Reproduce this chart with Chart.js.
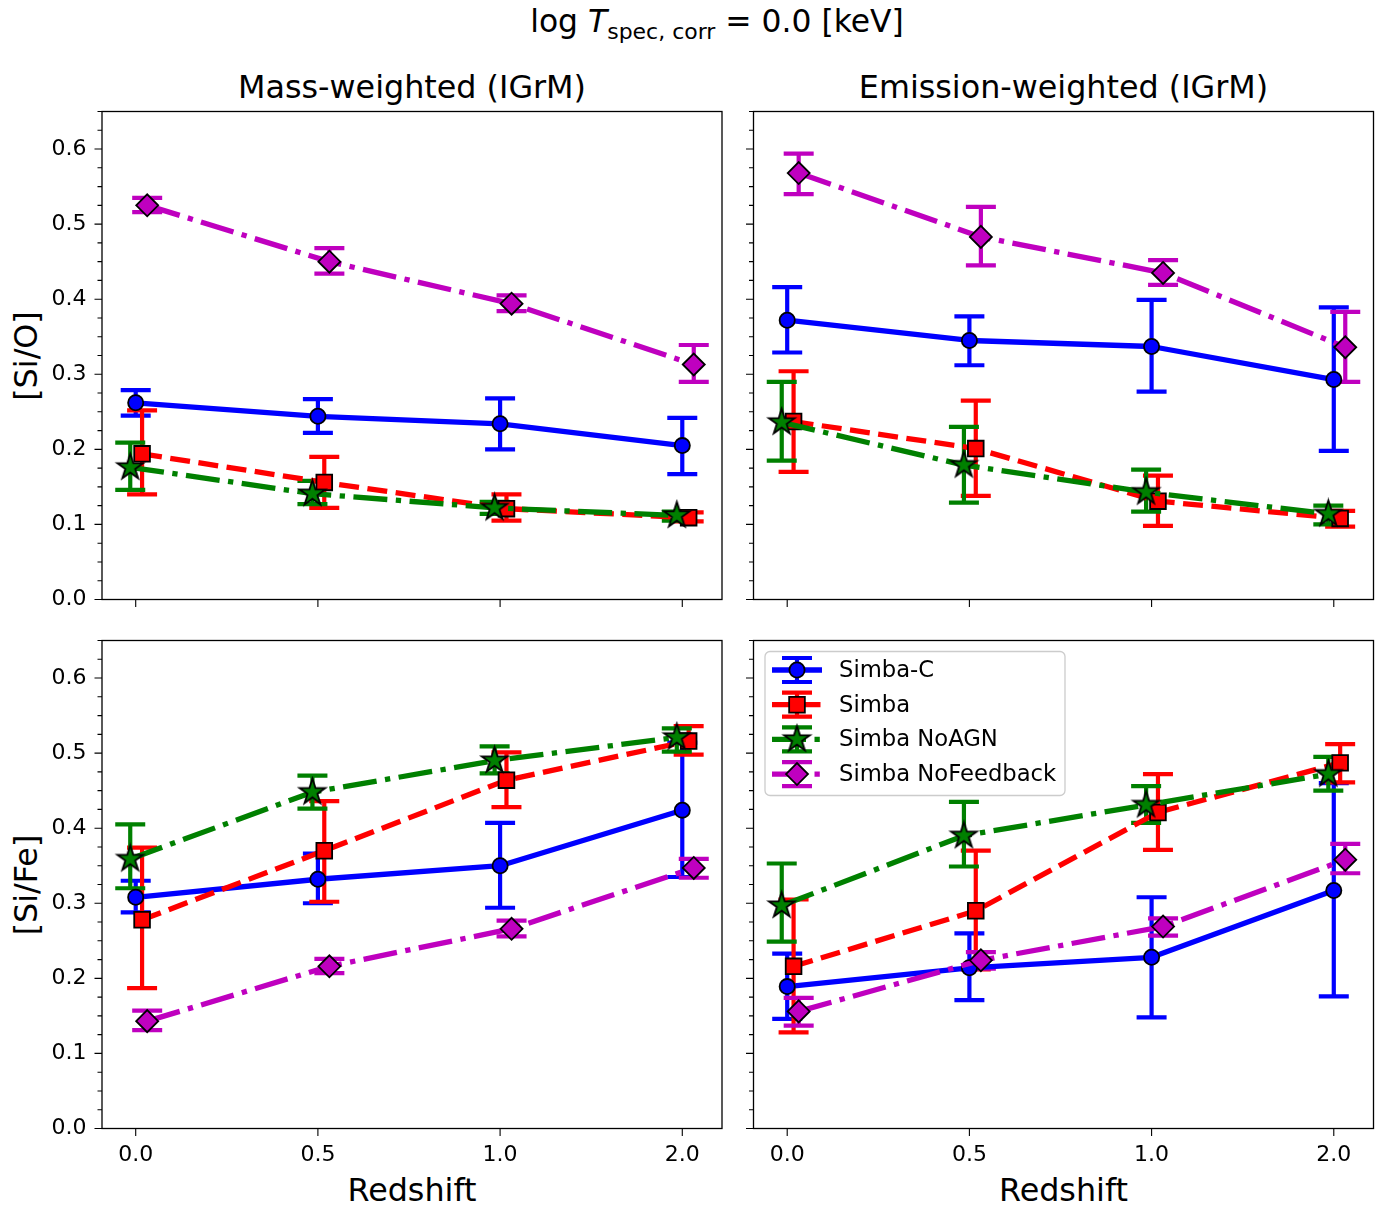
<!DOCTYPE html>
<html>
<head>
<meta charset="utf-8">
<script src="https://cdn.jsdelivr.net/npm/chart.js"></script>
<style>
  body { margin: 0; background: #fff; width: 1390px; height: 1207px; position: relative; overflow: hidden;
         font-family: "DejaVu Sans", sans-serif; }
  canvas { position: absolute; }
  .t { position: absolute; white-space: nowrap; color: #000; font-size: 31.8px; line-height: 1;
       transform: translate(-50%, -50%); }
  .rot { transform: translate(-50%, -50%) rotate(-90deg); }
  .sub { font-size: 70%; position: relative; top: 0.32em; }
</style>
</head>
<body>
<div class="t" style="left:717px;top:22px;font-size:31.4px">log <i>T</i><span class="sub">spec, corr</span> = 0.0 [keV]</div>
<div class="t" style="left:412px;top:87px">Mass-weighted (IGrM)</div>
<div class="t" style="left:1063.5px;top:87px">Emission-weighted (IGrM)</div>
<div class="t rot" style="left:26px;top:355.5px">[Si/O]</div>
<div class="t rot" style="left:26px;top:884.5px">[Si/Fe]</div>
<div class="t" style="left:412px;top:1190px">Redshift</div>
<div class="t" style="left:1063.5px;top:1190px">Redshift</div>

<canvas id="siO_mass" width="730" height="520" style="left:0px;top:100px"></canvas>
<canvas id="siO_emis" width="730" height="520" style="left:660px;top:100px"></canvas>
<canvas id="siFe_mass" width="730" height="578" style="left:0px;top:629px"></canvas>
<canvas id="siFe_emis" width="730" height="578" style="left:660px;top:629px"></canvas>

<script>
// categories and tick labels
const redshiftLabels = ['0.0', '0.5', '1.0', '2.0'];
const yTickValues = [0, 0.1, 0.2, 0.3, 0.4, 0.5, 0.6];
const yTickLabels = ['0.0', '0.1', '0.2', '0.3', '0.4', '0.5', '0.6'];
const seriesNames = ['Simba-C', 'Simba', 'Simba NoAGN', 'Simba NoFeedback'];

// [Si/O], mass-weighted: rows are Simba-C, Simba, NoAGN, NoFeedback
const siO_mass_mid = [[0.262, 0.244, 0.234, 0.205], [0.194, 0.156, 0.121, 0.109], [0.176, 0.141, 0.122, 0.112], [0.525, 0.450, 0.394, 0.313]];
const siO_mass_lo  = [[0.245, 0.222, 0.200, 0.167], [0.140, 0.122, 0.105, 0.104], [0.146, 0.127, 0.114, 0.105], [0.516, 0.434, 0.384, 0.290]];
const siO_mass_hi  = [[0.279, 0.267, 0.268, 0.242], [0.252, 0.190, 0.140, 0.116], [0.209, 0.158, 0.130, 0.117], [0.535, 0.468, 0.405, 0.339]];

// [Si/O], emission-weighted
const siO_emis_mid = [[0.372, 0.345, 0.337, 0.293], [0.237, 0.201, 0.131, 0.108], [0.236, 0.179, 0.143, 0.114], [0.568, 0.483, 0.435, 0.336]];
const siO_emis_lo  = [[0.329, 0.312, 0.277, 0.198], [0.170, 0.138, 0.098, 0.097], [0.185, 0.129, 0.117, 0.100], [0.540, 0.445, 0.419, 0.290]];
const siO_emis_hi  = [[0.416, 0.377, 0.399, 0.389], [0.304, 0.265, 0.165, 0.118], [0.290, 0.230, 0.173, 0.125], [0.594, 0.523, 0.452, 0.383]];

// [Si/Fe], mass-weighted
const siFe_mass_mid = [[0.308, 0.332, 0.350, 0.424], [0.278, 0.370, 0.464, 0.516], [0.359, 0.448, 0.490, 0.521], [0.143, 0.216, 0.266, 0.347]];
const siFe_mass_lo  = [[0.288, 0.300, 0.294, 0.335], [0.187, 0.302, 0.428, 0.498], [0.320, 0.426, 0.473, 0.502], [0.131, 0.207, 0.256, 0.334]];
const siFe_mass_hi  = [[0.330, 0.366, 0.407, 0.514], [0.374, 0.436, 0.501, 0.536], [0.405, 0.470, 0.509, 0.533], [0.157, 0.226, 0.277, 0.359]];

// [Si/Fe], emission-weighted
const siFe_emis_mid = [[0.189, 0.214, 0.228, 0.317], [0.216, 0.290, 0.421, 0.487], [0.297, 0.390, 0.431, 0.472], [0.156, 0.224, 0.269, 0.358]];
const siFe_emis_lo  = [[0.146, 0.171, 0.148, 0.176], [0.128, 0.212, 0.371, 0.461], [0.249, 0.349, 0.407, 0.450], [0.137, 0.213, 0.257, 0.340]];
const siFe_emis_hi  = [[0.233, 0.260, 0.308, 0.460], [0.305, 0.370, 0.472, 0.512], [0.353, 0.435, 0.456, 0.495], [0.174, 0.235, 0.280, 0.379]];

// styles
const seriesColors = ['#0000ff', '#ff0000', '#008000', '#bf00bf'];
const seriesDash = [[], [20, 8.5], [34, 8.5, 5.3, 8.5], [34, 8.5, 5.3, 8.5]];
const seriesOffsets = [0, 0.035, -0.03, 0.063];
const LW = 5.3, ELW = 4.2, CAP = 15, EDGE = 1.8;
const FONT = '"DejaVu Sans", sans-serif';

function makeStar(R, fill) {
  const c = document.createElement('canvas');
  const s = Math.ceil(2 * R + 6);
  c.width = s; c.height = s;
  const g = c.getContext('2d');
  g.beginPath();
  for (let k = 0; k < 10; k++) {
    const r = k % 2 ? R * 0.382 : R;
    const a = -Math.PI / 2 + k * Math.PI / 5;
    g.lineTo(s / 2 + r * Math.cos(a), s / 2 + r * Math.sin(a));
  }
  g.closePath();
  g.fillStyle = fill; g.fill();
  g.lineWidth = EDGE; g.strokeStyle = '#000'; g.stroke();
  return c;
}
const starImg = makeStar(13.5, '#008000');
const pointStyles = ['circle', 'rect', starImg, 'rectRot'];
const pointRadii = [7.6, 11.1, 14, 11];

function drawMarker(ctx, s, x, y) {
  ctx.save();
  if (s === 2) { ctx.drawImage(starImg, x - starImg.width / 2, y - starImg.height / 2); ctx.restore(); return; }
  ctx.beginPath();
  const r = pointRadii[s];
  if (s === 0) ctx.arc(x, y, r, 0, Math.PI * 2);
  else if (s === 1) { const h = r * Math.SQRT1_2; ctx.rect(x - h, y - h, 2 * h, 2 * h); }
  else { ctx.moveTo(x - r, y); ctx.lineTo(x, y - r); ctx.lineTo(x + r, y); ctx.lineTo(x, y + r); ctx.closePath(); }
  ctx.fillStyle = seriesColors[s]; ctx.fill();
  ctx.lineWidth = EDGE; ctx.strokeStyle = '#000'; ctx.stroke();
  ctx.restore();
}

function errorBars(lo, hi) {
  return {
    id: 'errorBars',
    beforeDatasetsDraw(chart) {
      const { ctx, scales: { x, y } } = chart;
      ctx.save();
      ctx.lineWidth = ELW;
      lo.forEach((row, s) => {
        ctx.strokeStyle = seriesColors[s];
        ctx.beginPath();
        row.forEach((v, i) => {
          const px = x.getPixelForValue(i + seriesOffsets[s]);
          const yl = y.getPixelForValue(v), yh = y.getPixelForValue(hi[s][i]);
          ctx.moveTo(px, yl); ctx.lineTo(px, yh);
          ctx.moveTo(px - CAP, yl); ctx.lineTo(px + CAP, yl);
          ctx.moveTo(px - CAP, yh); ctx.lineTo(px + CAP, yh);
        });
        ctx.stroke();
      });
      ctx.restore();
    }
  };
}

const frameTicks = {
  id: 'frameTicks',
  afterDatasetsDraw(chart) {
    const { ctx, chartArea: a, scales: { x, y } } = chart;
    ctx.save();
    ctx.strokeStyle = '#000';
    ctx.lineWidth = 1.1;
    ctx.beginPath();
    yTickValues.forEach(v => { const py = y.getPixelForValue(v); ctx.moveTo(a.left, py); ctx.lineTo(a.left - 7.5, py); });
    for (let k = 1; k * 0.025 < 0.65 + 1e-9; k++) {
      if (k % 4 === 0) continue;
      const py = y.getPixelForValue(k * 0.025);
      ctx.moveTo(a.left, py); ctx.lineTo(a.left - 4.5, py);
    }
    redshiftLabels.forEach((_, i) => { const px = x.getPixelForValue(i); ctx.moveTo(px, a.bottom); ctx.lineTo(px, a.bottom + 7.5); });
    ctx.stroke();
    ctx.lineWidth = 1.3;
    ctx.strokeRect(a.left, a.top, a.right - a.left, a.bottom - a.top);
    ctx.restore();
  }
};

const insetLegend = {
  id: 'insetLegend',
  afterDraw(chart) {
    const { ctx, chartArea: a } = chart;
    const bx = a.left + 11.5, by = a.top + 11, bw = 300, bh = 144, rr = 5;
    ctx.save();
    ctx.beginPath();
    ctx.moveTo(bx + rr, by); ctx.arcTo(bx + bw, by, bx + bw, by + bh, rr); ctx.arcTo(bx + bw, by + bh, bx, by + bh, rr);
    ctx.arcTo(bx, by + bh, bx, by, rr); ctx.arcTo(bx, by, bx + bw, by, rr); ctx.closePath();
    ctx.fillStyle = 'rgba(255,255,255,0.8)'; ctx.fill();
    ctx.strokeStyle = '#cccccc'; ctx.lineWidth = 1.3; ctx.stroke();
    ctx.font = '22.7px ' + FONT; ctx.fillStyle = '#000'; ctx.textBaseline = 'middle';
    seriesNames.forEach((name, s) => {
      const cy = by + 18.5 + s * 34.7, cx = bx + 32;
      ctx.strokeStyle = seriesColors[s];
      ctx.lineWidth = ELW;
      ctx.setLineDash([]);
      ctx.beginPath();
      ctx.moveTo(cx, cy - 12); ctx.lineTo(cx, cy + 12);
      ctx.moveTo(cx - CAP, cy - 12); ctx.lineTo(cx + CAP, cy - 12);
      ctx.moveTo(cx - CAP, cy + 12); ctx.lineTo(cx + CAP, cy + 12);
      ctx.stroke();
      ctx.lineWidth = LW;
      ctx.setLineDash(seriesDash[s]);
      ctx.beginPath(); ctx.moveTo(bx + 7, cy); ctx.lineTo(bx + 57, cy); ctx.stroke();
      ctx.setLineDash([]);
      drawMarker(ctx, s, cx, cy);
      ctx.fillStyle = '#000';
      ctx.fillText(name, bx + 74, cy + 1);
    });
    ctx.restore();
  }
};

function noPad(sc) {
  sc.paddingTop = 0; sc.paddingBottom = 0; sc.paddingLeft = 0; sc.paddingRight = 0;
}

function makePanel(id, mid, lo, hi, opts) {
  const datasets = seriesNames.map((name, s) => ({
    label: name,
    data: mid[s].map((v, i) => ({ x: i + seriesOffsets[s], y: v })),
    borderColor: seriesColors[s],
    backgroundColor: seriesColors[s],
    borderWidth: LW,
    borderDash: seriesDash[s],
    borderJoinStyle: 'round',
    pointStyle: pointStyles[s],
    pointRadius: pointRadii[s],
    pointBackgroundColor: seriesColors[s],
    pointBorderColor: '#000',
    pointBorderWidth: EDGE,
    tension: 0,
    fill: false,
    order: 3 - s,
    clip: false
  }));
  const plugins = [errorBars(lo, hi), frameTicks];
  if (opts.legend) plugins.push(insetLegend);
  new Chart(document.getElementById(id), {
    type: 'line',
    data: { datasets },
    plugins,
    options: {
      responsive: false,
      animation: false,
      events: [],
      layout: { padding: opts.padding, autoPadding: false },
      plugins: { legend: { display: false }, tooltip: { enabled: false } },
      scales: {
        x: {
          type: 'linear', min: -0.185, max: 3.218,
          grid: { display: false, drawTicks: false },
          border: { display: false },
          afterBuildTicks: sc => { sc.ticks = redshiftLabels.map((_, i) => ({ value: i })); },
          afterFit: sc => { sc.height = opts.xH; noPad(sc); },
          ticks: {
            display: opts.xLabels, autoSkip: false, maxRotation: 0, padding: 14,
            color: '#000', font: { family: FONT, size: 22 },
            callback: v => redshiftLabels[Math.round(v)]
          }
        },
        y: {
          type: 'linear', min: 0, max: 0.65,
          grid: { display: false, drawTicks: false },
          border: { display: false },
          afterBuildTicks: sc => { sc.ticks = yTickValues.map(v => ({ value: v })); },
          afterFit: sc => { sc.width = opts.yW; noPad(sc); },
          ticks: {
            display: opts.yLabels, autoSkip: false, padding: 15.5,
            color: '#000', font: { family: FONT, size: 22 },
            callback: (v, i) => yTickLabels[i]
          }
        }
      }
    }
  });
}

makePanel('siO_mass', siO_mass_mid, siO_mass_lo, siO_mass_hi,
  { padding: { top: 11.5, right: 8, bottom: 0, left: 0 }, yW: 102, xH: 20.5, xLabels: false, yLabels: true });
makePanel('siO_emis', siO_emis_mid, siO_emis_lo, siO_emis_hi,
  { padding: { top: 11.5, right: 16.5, bottom: 0, left: 0 }, yW: 93.5, xH: 20.5, xLabels: false, yLabels: false });
makePanel('siFe_mass', siFe_mass_mid, siFe_mass_lo, siFe_mass_hi,
  { padding: { top: 11.5, right: 8, bottom: 0, left: 0 }, yW: 102, xH: 78.5, xLabels: true, yLabels: true });
makePanel('siFe_emis', siFe_emis_mid, siFe_emis_lo, siFe_emis_hi,
  { padding: { top: 11.5, right: 16.5, bottom: 0, left: 0 }, yW: 93.5, xH: 78.5, xLabels: true, yLabels: false, legend: true });
</script>
</body>
</html>
